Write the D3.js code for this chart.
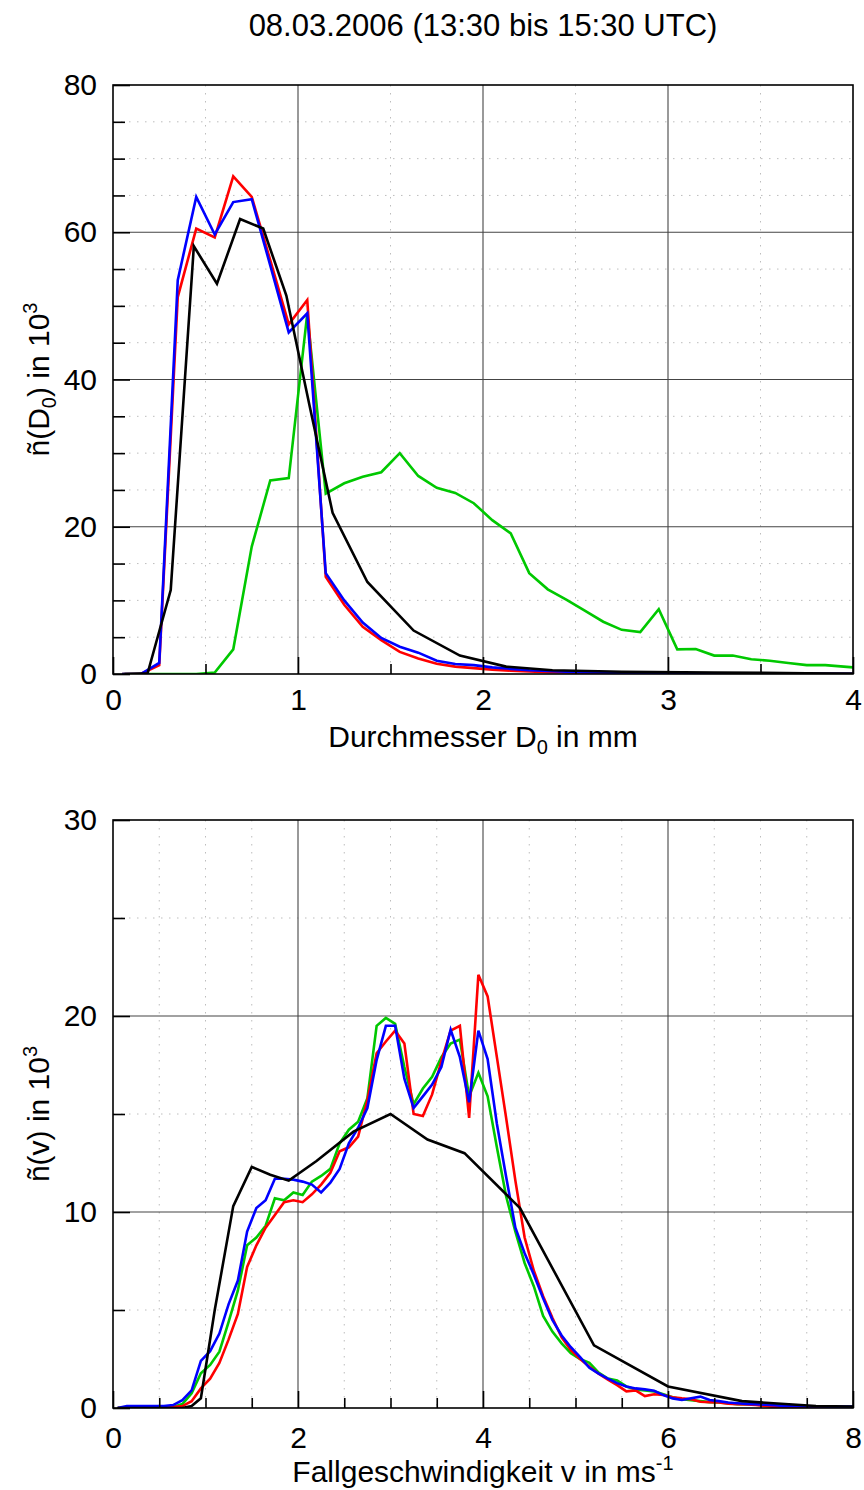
<!DOCTYPE html>
<html>
<head>
<meta charset="utf-8">
<script src="https://cdn.jsdelivr.net/npm/d3@7"></script>
<style>
  body { margin: 0; background: #fff; }
  svg { display: block; }
  text { font-family: "Liberation Sans", Arial, Helvetica, sans-serif; fill: #000; }
</style>
</head>
<body>
<svg id="chart" width="864" height="1490"></svg>
<script>
// ---------- DATA ----------
const title = "08.03.2006 (13:30 bis 15:30 UTC)";

// Top panel: diameter classes (0.1 mm bins)
const diam = [0.05,0.15,0.25,0.35,0.45,0.55,0.65,0.75,0.85,0.95,
              1.05,1.15,1.25,1.35,1.45,1.55,1.65,1.75,1.85,1.95,
              2.05,2.15,2.25,2.35,2.45,2.55,2.65,2.75,2.85,2.95,
              3.05,3.15,3.25,3.35,3.45,3.55,3.65,3.75,3.85,3.95,4.05];
const redD = [0,0,1.2,51.2,60.5,59.3,67.6,64.8,56.2,47.5,
              50.8,13.2,9.4,6.4,4.6,3.0,2.1,1.4,1.0,0.8,
              0.6,0.45,0.35,0.25,0.2,0.15,0.1,0.1,0.05,0.05,
              0.03,0.02,0.02,0.01,0.01,0,0,0,0,0,0];
const blueD = [0,0,1.5,53.5,64.8,59.7,64.1,64.5,55.5,46.4,
               49.0,13.7,10.0,7.0,4.9,3.7,2.9,1.8,1.35,1.2,
               0.9,0.7,0.5,0.4,0.3,0.25,0.2,0.15,0.1,0.1,
               0.08,0.07,0.06,0.05,0.05,0.04,0.04,0.03,0.03,0.03,0.03];
const greenD = [0,0,0,0,0,0.2,3.35,17.3,26.3,26.6,
                48.9,24.5,25.9,26.8,27.4,30.0,26.9,25.3,24.6,23.2,
                20.9,19.1,13.7,11.5,10.1,8.6,7.1,6.0,5.7,8.8,
                3.35,3.4,2.5,2.5,2.0,1.8,1.5,1.2,1.2,1.0,0.8];
// Parsivel diameter classes
const diamP = [0.062,0.187,0.312,0.437,0.562,0.687,0.812,0.937,1.062,1.187,
               1.375,1.625,1.875,2.125,2.375,2.75,3.25,3.75,4.25];
const blackD = [0,0.1,11.4,58.1,53.0,61.8,60.5,51.4,36.5,21.9,
                12.5,5.9,2.5,1.0,0.5,0.3,0.2,0.1,0.05];

// Bottom panel: velocity classes (0.1 m/s bins)
const vel = [0.05,0.15,0.25,0.35,0.45,0.55,0.65,0.75,0.85,0.95,
             1.05,1.15,1.25,1.35,1.45,1.55,1.65,1.75,1.85,1.95,
             2.05,2.15,2.25,2.35,2.45,2.55,2.65,2.75,2.85,2.95,
             3.05,3.15,3.25,3.35,3.45,3.55,3.65,3.75,3.85,3.95,
             4.05,4.15,4.25,4.35,4.45,4.55,4.65,4.75,4.85,4.95,
             5.05,5.15,5.25,5.35,5.45,5.55,5.65,5.75,5.85,5.95,
             6.05,6.15,6.25,6.35,6.45,6.55,6.65,6.75,6.85,6.95,
             7.05,7.15,7.25,7.35,7.45,7.55,7.65,7.75,7.85,7.95,8.05];
const redV = [0,0,0,0,0,0,0.05,0.1,0.35,1.0,
              1.5,2.3,3.5,4.8,7.2,8.3,9.2,9.85,10.5,10.6,
              10.5,10.9,11.4,12.0,13.1,13.3,13.85,15.7,18.1,18.7,
              19.25,18.6,15.0,14.9,16.0,17.7,19.25,19.5,14.8,22.1,
              21.0,17.9,14.8,11.6,8.7,7.0,5.7,4.6,3.6,2.95,
              2.5,2.1,1.75,1.45,1.17,0.85,0.9,0.61,0.7,0.66,
              0.55,0.49,0.45,0.32,0.3,0.28,0.22,0.2,0.18,0.15,
              0.1,0.05,0,0.02,0.02,0.01,0.01,0,0,0,0];
const blueV = [0,0.1,0.1,0.1,0.1,0.1,0.15,0.4,0.9,2.4,
               2.9,3.8,5.3,6.5,9.0,10.2,10.6,11.7,11.7,11.65,
               11.55,11.4,11.0,11.5,12.2,13.5,14.3,15.3,17.75,19.5,
               19.5,16.8,15.3,15.9,16.5,17.4,19.3,17.9,15.6,19.25,
               17.8,14.5,11.8,9.2,7.9,6.8,5.6,4.5,3.7,3.1,
               2.6,2.05,1.75,1.5,1.27,1.1,1.0,0.95,0.88,0.66,
               0.49,0.41,0.5,0.58,0.41,0.35,0.28,0.24,0.21,0.2,
               0.17,0.14,0.1,0.1,0.09,0.08,0.08,0.07,0.07,0.07,0.07];
const greenV = [0,0,0,0,0,0,0.05,0.2,0.75,1.77,
                2.2,2.87,4.4,6.0,8.3,8.7,9.3,10.7,10.6,11.0,
                10.87,11.55,11.84,12.2,13.5,14.2,14.6,15.8,19.5,19.9,
                19.6,17.4,15.5,16.3,16.9,17.9,18.6,18.8,15.9,17.1,
                15.9,13.3,10.8,9.0,7.4,6.2,4.7,3.9,3.3,2.8,
                2.5,2.3,1.8,1.5,1.4,1.1,0.95,0.9,0.85,0.7,
                0.55,0.45,0.4,0.35,0.3,0.28,0.25,0.2,0.2,0.22,
                0.2,0.15,0.1,0.08,0.06,0.05,0.05,0.04,0.04,0.04,0.04];
// Parsivel velocity classes
const velP = [0.05,0.15,0.25,0.35,0.45,0.55,0.65,0.75,0.85,0.95,
              1.1,1.3,1.5,1.7,1.9,2.2,2.6,3.0,3.4,3.8,
              4.4,5.2,6.0,6.8,7.6,8.8];
const blackV = [0,0,0,0,0,0,0,0,0.1,0.5,
                5.0,10.3,12.3,11.9,11.6,12.6,14.1,15.0,13.7,13.0,
                10.2,3.2,1.1,0.35,0.1,0.02];

// Tick values
const topXMajor = [0,1,2,3,4];
const topXMinor = [0.5,1.5,2.5,3.5];
const topYMajor = [0,20,40,60,80];
const topYMinor = [5,10,15,25,30,35,45,50,55,65,70,75];
const botXMajor = [0,2,4,6,8];
const botXMinor = [0.5,1,1.5,2.5,3,3.5,4.5,5,5.5,6.5,7,7.5];
const botYMajor = [0,10,20,30];
const botYMinor = [5,15,25];

// ---------- DRAW ----------
const svg = d3.select("#chart");
const colors = { green: "#00c800", red: "#ff0000", blue: "#0000ff", black: "#000000" };
const FONT = 30;
const SUB = 20;

svg.append("text").attr("x", 483).attr("y", 36).attr("text-anchor", "middle")
   .style("font-size", "31px").text(title);

function panel(cfg) {
  const { left, right, top, bottom } = cfg;
  const x = d3.scaleLinear().domain(cfg.xDomain).range([left, right]);
  const y = d3.scaleLinear().domain(cfg.yDomain).range([bottom, top]);
  const g = svg.append("g");
  const clipId = "clip" + cfg.id;
  svg.append("clipPath").attr("id", clipId).append("rect")
     .attr("x", left).attr("y", top - 2).attr("width", right - left).attr("height", bottom - top + 2);

  // minor dotted grid
  g.selectAll(".vminor").data(cfg.xMinor).join("line")
    .attr("x1", d => x(d)).attr("x2", d => x(d)).attr("y1", top).attr("y2", bottom)
    .attr("stroke", "#bdbdbd").attr("stroke-width", 1).attr("stroke-dasharray", "1.5,6.5");
  g.selectAll(".hminor").data(cfg.yMinor).join("line")
    .attr("y1", d => y(d)).attr("y2", d => y(d)).attr("x1", left).attr("x2", right)
    .attr("stroke", "#bdbdbd").attr("stroke-width", 1).attr("stroke-dasharray", "1.5,6.5");
  // major grid
  g.selectAll(".vmajor").data(cfg.xMajor.slice(1, -1)).join("line")
    .attr("x1", d => x(d)).attr("x2", d => x(d)).attr("y1", top).attr("y2", bottom)
    .attr("stroke", "#555").attr("stroke-width", 1.2);
  g.selectAll(".hmajor").data(cfg.yMajor.slice(1, -1)).join("line")
    .attr("y1", d => y(d)).attr("y2", d => y(d)).attr("x1", left).attr("x2", right)
    .attr("stroke", "#444").attr("stroke-width", 1.2);

  // series
  const line = d3.line().x(d => x(d[0])).y(d => y(d[1]));
  const lg = g.append("g").attr("clip-path", `url(#${clipId})`);
  cfg.series.forEach(s => {
    lg.append("path").datum(d3.zip(s.x, s.y))
      .attr("fill", "none").attr("stroke", s.color).attr("stroke-width", 2.6)
      .attr("stroke-linejoin", "miter").attr("d", line);
  });

  // frame
  g.append("rect").attr("x", left).attr("y", top).attr("width", right - left).attr("height", bottom - top)
    .attr("fill", "none").attr("stroke", "#000").attr("stroke-width", 1.6);

  // axes (inward ticks)
  const ax = g.append("g").attr("transform", `translate(0,${bottom})`);
  ax.call(d3.axisBottom(x).tickValues(cfg.xMajor).tickSize(-17).tickPadding(cfg.xPad).tickFormat(d3.format("d")));
  ax.append("g").call(d3.axisBottom(x).tickValues(cfg.xMinor).tickSize(-10).tickFormat(""));
  const ay = g.append("g").attr("transform", `translate(${left},0)`);
  ay.call(d3.axisLeft(y).tickValues(cfg.yMajor).tickSize(-17).tickPadding(16).tickFormat(d3.format("d")));
  ay.append("g").call(d3.axisLeft(y).tickValues(cfg.yMinor).tickSize(-12).tickFormat(""));
  [ax, ay].forEach(a => {
    a.selectAll(".domain").remove();
    a.selectAll("line").attr("stroke", "#000").attr("stroke-width", 1.6);
    a.selectAll("text").style("font-size", FONT + "px")
      .style("font-family", '"Liberation Sans", Arial, sans-serif').attr("fill", "#000");
  });

  // x label
  const xl = svg.append("text").attr("x", (left + right) / 2).attr("y", cfg.xLabelY)
    .attr("text-anchor", "middle").style("font-size", FONT + "px");
  cfg.xLabel(xl);
  const yl = svg.append("text").attr("transform", `translate(49,${(top + bottom) / 2}) rotate(-90)`)
    .attr("text-anchor", "middle").style("font-size", FONT + "px");
  cfg.yLabel(yl);
}

panel({
  id: "top", left: 113, right: 853, top: 85, bottom: 674,
  xDomain: [0, 4], yDomain: [0, 80],
  xMajor: topXMajor, xMinor: topXMinor, yMajor: topYMajor, yMinor: topYMinor,
  xPad: 15,
  series: [
    { x: diam, y: greenD, color: colors.green },
    { x: diam, y: redD, color: colors.red },
    { x: diam, y: blueD, color: colors.blue },
    { x: diamP, y: blackD, color: colors.black }
  ],
  xLabelY: 747,
  xLabel: t => {
    t.append("tspan").text("Durchmesser D");
    t.append("tspan").attr("dy", 7).style("font-size", SUB + "px").text("0");
    t.append("tspan").attr("dy", -7).text(" in mm");
  },
  yLabel: t => {
    t.append("tspan").text("ñ(D");
    t.append("tspan").attr("dy", 7).style("font-size", SUB + "px").text("0");
    t.append("tspan").attr("dy", -7).text(") in 10");
    t.append("tspan").attr("dy", -12).style("font-size", SUB + "px").text("3");
  }
});

panel({
  id: "bot", left: 113, right: 853, top: 820, bottom: 1408,
  xDomain: [0, 8], yDomain: [0, 30],
  xMajor: botXMajor, xMinor: botXMinor, yMajor: botYMajor, yMinor: botYMinor,
  xPad: 19,
  series: [
    { x: vel, y: greenV, color: colors.green },
    { x: vel, y: redV, color: colors.red },
    { x: vel, y: blueV, color: colors.blue },
    { x: velP, y: blackV, color: colors.black }
  ],
  xLabelY: 1482,
  xLabel: t => {
    t.append("tspan").text("Fallgeschwindigkeit v in ms");
    t.append("tspan").attr("dy", -12).style("font-size", SUB + "px").text("-1");
  },
  yLabel: t => {
    t.append("tspan").text("ñ(v) in 10");
    t.append("tspan").attr("dy", -12).style("font-size", SUB + "px").text("3");
  }
});
</script>
</body>
</html>
